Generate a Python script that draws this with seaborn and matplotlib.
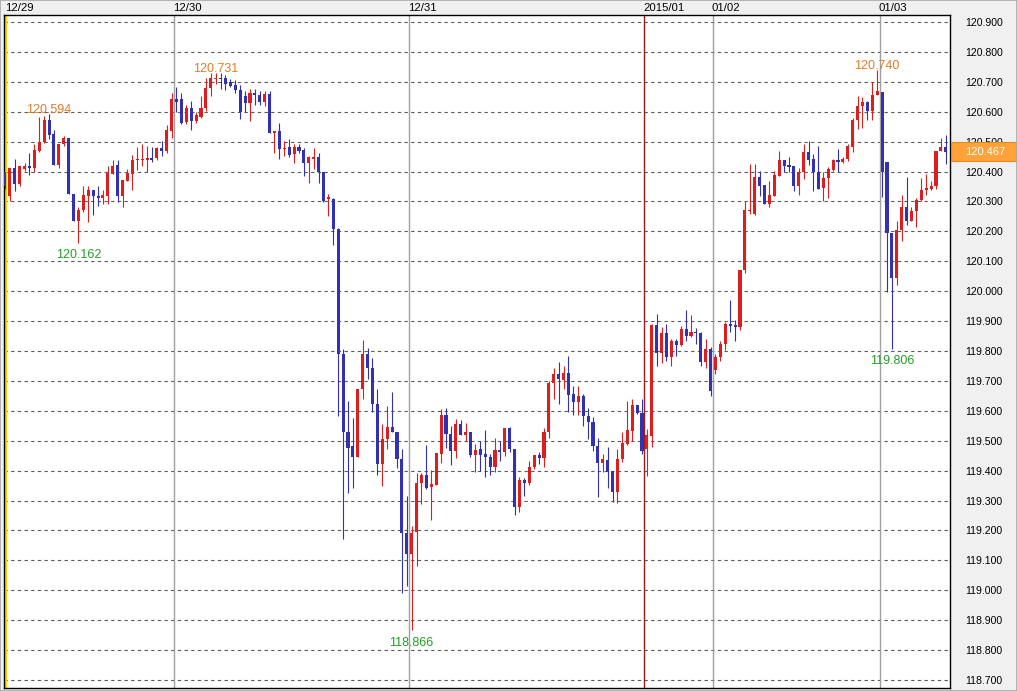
import numpy as np
import pandas as pd
import matplotlib
matplotlib.use("Agg")
import matplotlib.pyplot as plt
import matplotlib.transforms as mtransforms
from matplotlib.patches import Rectangle
from matplotlib import font_manager
import seaborn as sns

# ---------------- data (30-minute USD/JPY candles) ----------------
opens = [120.40, 120.319, 120.411, 120.358, 120.41, 120.418, 120.413, 120.469, 120.50, 120.572,
         120.524, 120.422, 120.491, 120.513, 120.326, 120.236, 120.27, 120.319, 120.338, 120.319,
         120.31, 120.319, 120.391, 120.421, 120.319, 120.369, 120.393, 120.437, 120.437, 120.439,
         120.444, 120.444, 120.478, 120.469, 120.536, 120.641, 120.641, 120.566, 120.613, 120.569,
         120.583, 120.611, 120.678, 120.708, 120.713, 120.713, 120.699, 120.691, 120.674, 120.654,
         120.63, 120.663, 120.656, 120.633, 120.658, 120.53, 120.536, 120.474, 120.483, 120.458,
         120.483, 120.472, 120.427, 120.441, 120.449, 120.40, 120.308, 120.307, 120.209, 119.791,
         119.53, 119.484, 119.447, 119.672, 119.791, 119.744, 119.624, 119.421, 119.507, 119.547,
         119.53, 119.44, 119.192, 119.122, 119.196, 119.359, 119.386, 119.344, 119.353, 119.456,
         119.586, 119.524, 119.467, 119.556, 119.52, 119.528, 119.453, 119.472, 119.456, 119.444,
         119.411, 119.469, 119.463, 119.541, 119.472, 119.278, 119.369, 119.358, 119.411, 119.452,
         119.441, 119.528, 119.692, 119.724, 119.703, 119.728, 119.656, 119.628, 119.648, 119.581,
         119.563, 119.483, 119.426, 119.437, 119.40, 119.328, 119.439, 119.489, 119.533, 119.619,
         119.592, 119.472, 119.515, 119.887, 119.793, 119.859, 119.779, 119.832, 119.82, 119.874,
         119.849, 119.865, 119.859, 119.762, 119.807, 119.737, 119.779, 119.823, 119.89, 119.887,
         119.879, 120.07, 120.267, 120.258, 120.383, 120.354, 120.291, 120.319, 120.386, 120.438,
         120.421, 120.419, 120.352, 120.40, 120.467, 120.441, 120.40, 120.344, 120.38, 120.406,
         120.438, 120.432, 120.441, 120.483, 120.572, 120.619, 120.633, 120.602, 120.656, 120.667,
         120.433, 120.194, 120.043, 120.206, 120.28, 120.236, 120.267, 120.306, 120.339, 120.341,
         120.35, 120.469, 120.483]
highs = [120.40, 120.411, 120.441, 120.417, 120.428, 120.463, 120.493, 120.583, 120.586, 120.594,
         120.539, 120.491, 120.519, 120.513, 120.326, 120.283, 120.352, 120.352, 120.338, 120.352,
         120.338, 120.417, 120.438, 120.438, 120.371, 120.408, 120.454, 120.483, 120.491, 120.486,
         120.483, 120.483, 120.502, 120.556, 120.661, 120.683, 120.661, 120.624, 120.636, 120.60,
         120.652, 120.713, 120.73, 120.731, 120.73, 120.724, 120.708, 120.705, 120.691, 120.669,
         120.677, 120.677, 120.669, 120.669, 120.669, 120.536, 120.563, 120.502, 120.508, 120.491,
         120.491, 120.48, 120.452, 120.48, 120.463, 120.40, 120.324, 120.31, 120.212, 119.805,
         119.633, 119.577, 119.672, 119.837, 119.811, 119.778, 119.674, 119.555, 119.616, 119.664,
         119.53, 119.471, 119.315, 119.214, 119.393, 119.391, 119.486, 119.402, 119.459, 119.606,
         119.611, 119.548, 119.572, 119.569, 119.559, 119.528, 119.489, 119.50, 119.536, 119.456,
         119.509, 119.50, 119.541, 119.547, 119.472, 119.38, 119.376, 119.433, 119.452, 119.461,
         119.541, 119.70, 119.744, 119.763, 119.75, 119.783, 119.683, 119.683, 119.656, 119.611,
         119.578, 119.508, 119.456, 119.478, 119.40, 119.472, 119.528, 119.633, 119.639, 119.619,
         119.641, 119.539, 119.89, 119.924, 119.879, 119.89, 119.84, 119.84, 119.885, 119.937,
         119.921, 119.876, 119.862, 119.84, 119.812, 119.79, 119.834, 119.898, 119.969, 119.902,
         120.07, 120.302, 120.424, 120.424, 120.402, 120.354, 120.369, 120.402, 120.469, 120.438,
         120.447, 120.419, 120.413, 120.491, 120.502, 120.458, 120.486, 120.397, 120.416, 120.441,
         120.474, 120.447, 120.491, 120.58, 120.652, 120.649, 120.636, 120.70, 120.740, 120.667,
         120.433, 120.194, 120.233, 120.322, 120.383, 120.28, 120.313, 120.377, 120.391, 120.369,
         120.469, 120.513, 120.521]
lows = [120.34, 120.30, 120.336, 120.352, 120.402, 120.389, 120.397, 120.466, 120.494, 120.508,
        120.422, 120.413, 120.486, 120.324, 120.236, 120.162, 120.264, 120.232, 120.255, 120.286,
        120.293, 120.291, 120.391, 120.297, 120.282, 120.369, 120.339, 120.404, 120.417, 120.40,
        120.433, 120.438, 120.452, 120.463, 120.511, 120.60, 120.558, 120.56, 120.538, 120.563,
        120.58, 120.602, 120.652, 120.694, 120.677, 120.672, 120.684, 120.663, 120.577, 120.60,
        120.569, 120.624, 120.624, 120.619, 120.53, 120.463, 120.441, 120.452, 120.447, 120.43,
        120.463, 120.386, 120.363, 120.408, 120.363, 120.297, 120.252, 120.154, 119.583, 119.172,
        119.326, 119.343, 119.447, 119.64, 119.705, 119.596, 119.387, 119.348, 119.471, 119.53,
        119.41, 118.992, 119.014, 118.866, 119.081, 119.287, 119.339, 119.236, 119.353, 119.426,
        119.474, 119.42, 119.441, 119.52, 119.50, 119.444, 119.394, 119.40, 119.38, 119.387,
        119.394, 119.433, 119.448, 119.461, 119.25, 119.261, 119.314, 119.353, 119.406, 119.422,
        119.411, 119.509, 119.639, 119.622, 119.672, 119.597, 119.586, 119.586, 119.55, 119.506,
        119.467, 119.311, 119.394, 119.341, 119.294, 119.291, 119.428, 119.486, 119.50, 119.59,
        119.456, 119.381, 119.48, 119.749, 119.759, 119.768, 119.749, 119.784, 119.816, 119.835,
        119.846, 119.823, 119.751, 119.742, 119.65, 119.723, 119.768, 119.802, 119.865, 119.835,
        119.87, 120.06, 120.258, 120.254, 120.319, 120.29, 120.28, 120.319, 120.386, 120.40,
        120.40, 120.336, 120.322, 120.374, 120.421, 120.336, 120.341, 120.30, 120.313, 120.402,
        120.397, 120.429, 120.436, 120.466, 120.541, 120.544, 120.571, 120.571, 120.656, 120.316,
        119.997, 119.806, 120.019, 120.169, 120.221, 120.233, 120.213, 120.302, 120.322, 120.338,
        120.343, 120.469, 120.424]
closes = [120.35, 120.411, 120.358, 120.417, 120.419, 120.412, 120.472, 120.50, 120.572, 120.522,
          120.422, 120.491, 120.511, 120.324, 120.236, 120.271, 120.321, 120.338, 120.317, 120.31,
          120.321, 120.394, 120.419, 120.319, 120.371, 120.394, 120.438, 120.442, 120.442, 120.444,
          120.439, 120.478, 120.469, 120.539, 120.641, 120.633, 120.563, 120.613, 120.569, 120.588,
          120.613, 120.68, 120.713, 120.713, 120.708, 120.694, 120.686, 120.672, 120.60, 120.63,
          120.663, 120.656, 120.633, 120.658, 120.53, 120.536, 120.474, 120.48, 120.456, 120.483,
          120.469, 120.427, 120.447, 120.449, 120.40, 120.302, 120.313, 120.209, 119.791, 119.53,
          119.477, 119.447, 119.672, 119.791, 119.744, 119.624, 119.421, 119.507, 119.547, 119.53,
          119.44, 119.192, 119.122, 119.192, 119.36, 119.386, 119.342, 119.356, 119.459, 119.586,
          119.524, 119.467, 119.556, 119.52, 119.528, 119.453, 119.469, 119.453, 119.444, 119.411,
          119.469, 119.463, 119.541, 119.472, 119.278, 119.369, 119.358, 119.413, 119.452, 119.441,
          119.528, 119.692, 119.724, 119.706, 119.728, 119.653, 119.628, 119.648, 119.581, 119.563,
          119.483, 119.426, 119.439, 119.397, 119.328, 119.439, 119.492, 119.536, 119.619, 119.592,
          119.467, 119.519, 119.887, 119.793, 119.859, 119.779, 119.832, 119.82, 119.874, 119.849,
          119.863, 119.859, 119.762, 119.807, 119.667, 119.779, 119.823, 119.89, 119.885, 119.879,
          120.07, 120.272, 120.272, 120.383, 120.352, 120.291, 120.321, 120.388, 120.438, 120.419,
          120.416, 120.352, 120.40, 120.467, 120.439, 120.397, 120.343, 120.38, 120.408, 120.438,
          120.432, 120.443, 120.486, 120.574, 120.619, 120.633, 120.602, 120.656, 120.669, 120.40,
          120.194, 120.043, 120.206, 120.28, 120.236, 120.267, 120.306, 120.339, 120.343, 120.352,
          120.469, 120.483, 120.467]

day_labels = ["12/29", "12/30", "12/31", "2015/01", "01/02", "01/03"]
day_positions = [0.3, 34.5, 82.5, 130.5, 144.5, 178.5]
price_ticks = [round(118.7 + 0.1 * k, 1) for k in range(23)]
high_marks_idx = [9, 43, 178]
low_marks_idx = [15, 83, 181]
last_price = 120.467

# ---------------- figure ----------------
sns.set_theme(style="white")
plt.rcParams['font.family'] = ['Liberation Sans', 'DejaVu Sans']

installed = {f.name for f in font_manager.fontManager.ttflist}
narrow_family = 'Liberation Sans Narrow' if 'Liberation Sans Narrow' in installed else 'Liberation Sans'
narrow_size = 9.5 if narrow_family == 'Liberation Sans Narrow' else 8.2

W, H = 1017, 691
fig = plt.figure(figsize=(W / 100, H / 100), dpi=100, facecolor='#f0f0f0')
ax = fig.add_axes([4 / W, 3 / H, 946 / W, 673 / H])
ax.set_facecolor('white')

df = pd.DataFrame({"open": opens, "high": highs, "low": lows, "close": closes})
df["idx"] = np.arange(len(df))
red, blue = '#dc1e1e', '#3131b2'
colors = np.where(df["close"] >= df["open"], red, blue)

# horizontal dashed grid
ax.set_yticks(price_ticks)
ax.yaxis.grid(True, linestyle=(0, (3, 3)), color='#5a5a5a', linewidth=0.8)
ax.xaxis.grid(False)
ax.set_axisbelow(True)

# day separators
for lbl, pos in zip(day_labels, day_positions):
    if lbl == "12/29":
        c, lw = '#f0d800', 1.6
    elif lbl == "2015/01":
        c, lw = '#a01818', 1.0
    else:
        c, lw = '#a0a0a0', 1.0
    ax.axvline(pos, color=c, linewidth=lw, zorder=1)
    ax.annotate(lbl, xy=(pos, 1.0), xycoords=('data', 'axes fraction'),
                xytext=(-1, 1.2), textcoords='offset points',
                ha='left', va='bottom', fontsize=narrow_size, color='black',
                family=[narrow_family, 'DejaVu Sans'], annotation_clip=False)

# candles
ax.vlines(df["idx"], df["low"], df["high"], colors=colors, linewidth=0.8, zorder=3)
body_bottom = np.minimum(df["open"], df["close"])
body_h = np.maximum((df["close"] - df["open"]).abs(), 0.006)
ax.bar(df["idx"], body_h, bottom=body_bottom, width=0.62, color=colors,
       linewidth=0, zorder=4)

# high / low annotations
for i in high_marks_idx:
    v = highs[i]
    ax.annotate(f"{v:.3f}", xy=(i, v), xytext=(0, 0.5), textcoords='offset points',
                ha='center', va='baseline', fontsize=9, color='#e07c28', zorder=6)
for i in low_marks_idx:
    v = lows[i]
    ax.annotate(f"{v:.3f}", xy=(i, v), xytext=(0, -4.5), textcoords='offset points',
                ha='center', va='top', fontsize=9, color='#22a022', zorder=6)

# axes limits / ticks
ax.set_xlim(-0.2, 192.86)
ax.set_ylim(118.6732, 120.9234)
ax.set_xticks([])
ax.yaxis.tick_right()
ax.set_yticklabels([f"{p:.3f}" for p in price_ticks])
ax.tick_params(axis='y', length=0, pad=11, labelsize=7.6, labelcolor='black')
for s in ax.spines.values():
    s.set_color('black')
    s.set_linewidth(1.0)

# current price box
trans = mtransforms.blended_transform_factory(fig.transFigure, ax.transData)
box_h = 0.063
ax.add_patch(Rectangle((951 / W, last_price - box_h / 2), 1 - 951 / W, box_h,
                       transform=trans, facecolor='#ffa23a', edgecolor='#e08a20',
                       linewidth=0.8, clip_on=False, zorder=10))
ax.text(965 / W, last_price, f"{last_price:.3f}", transform=trans, ha='left',
        va='center', fontsize=8, color='white', zorder=11, clip_on=False)

# outer border
fig.add_artist(Rectangle((0, 0), 1, 1, transform=fig.transFigure, fill=False,
                         edgecolor='#a8a8a8', linewidth=1.2))

fig.savefig("out.png", dpi=100, facecolor=fig.get_facecolor())
